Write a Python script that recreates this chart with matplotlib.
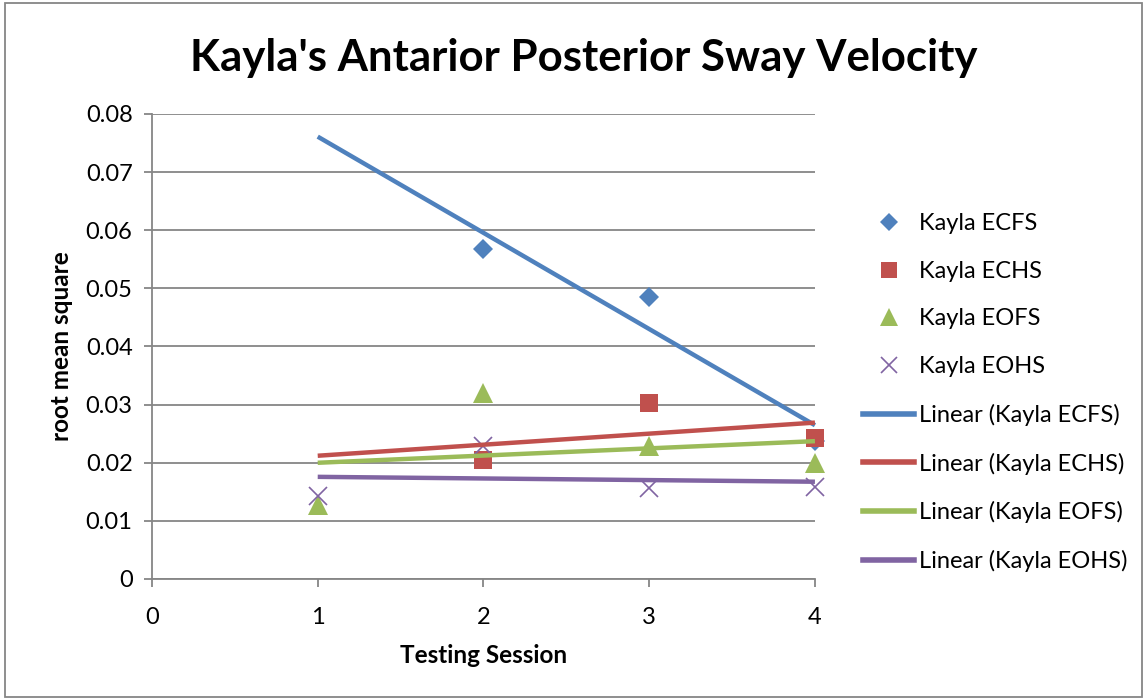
import matplotlib
matplotlib.use("Agg")
import matplotlib.pyplot as plt
import matplotlib.patheffects as pe
from matplotlib.lines import Line2D
from matplotlib.patches import Rectangle
import numpy as np

plt.rcParams['font.family'] = ['Lato', 'DejaVu Sans']

# data
series_names = ["Kayla ECFS", "Kayla ECHS", "Kayla EOFS", "Kayla EOHS"]
ecfs_x = [2, 3, 4]
ecfs_y = [0.0568, 0.0485, 0.0237]
echs_x = [2, 3, 4]
echs_y = [0.0205, 0.0302, 0.0243]
eofs_x = [1, 2, 3, 4]
eofs_y = [0.0127, 0.0320, 0.0228, 0.0199]
eohs_x = [1, 2, 3, 4]
eohs_y = [0.0143, 0.0229, 0.0156, 0.0158]
y_ticks = [0, 0.01, 0.02, 0.03, 0.04, 0.05, 0.06, 0.07, 0.08]
x_ticks = [0, 1, 2, 3, 4]

colors = ['#4F81BD', '#C0504D', '#9BBB59', '#8064A2']
markers = ['D', 's', '^', 'x']
msizes = [10, 13, 14, 13]
xs = [ecfs_x, echs_x, eofs_x, eohs_x]
ys = [ecfs_y, echs_y, eofs_y, eohs_y]

fig = plt.figure(figsize=(11.47, 7.0), dpi=100)
ax = fig.add_axes([0.1325, 0.1729, 0.578, 0.6643])

shadow = [pe.SimplePatchShadow(offset=(1.5, -2), alpha=0.25), pe.Normal()]

for name, x, y, c, m, ms in zip(series_names, xs, ys, colors, markers, msizes):
    ax.plot(x, y, linestyle='none', marker=m, color=c, markersize=ms,
            markeredgewidth=1.2 if m == 'x' else 0, clip_on=False, zorder=3)

# linear trendlines, forecast back to session 1
for x, y, c in zip(xs, ys, colors):
    k, b = np.polyfit(x, y, 1)
    tx = np.array([1, 4])
    ax.plot(tx, k * tx + b, color=c, lw=3.2, solid_capstyle='butt',
            path_effects=shadow, clip_on=False, zorder=4)

ax.set_xlim(0, 4)
ax.set_ylim(0, 0.08)
ax.set_xticks(x_ticks)
ax.set_yticks(y_ticks)
ax.set_yticklabels(['0' if v == 0 else f'{v:.2f}' for v in y_ticks])
ax.set_xticklabels([str(v) for v in x_ticks])
ax.grid(axis='y', color='#868686', lw=1.3)
ax.set_axisbelow(True)
for s in ['top', 'right']:
    ax.spines[s].set_visible(False)
for s in ['left', 'bottom']:
    ax.spines[s].set_color('#868686')
    ax.spines[s].set_linewidth(1.3)
ax.tick_params(axis='both', colors='#868686', labelcolor='black', labelsize=17,
               length=6, width=1.3, direction='out')
ax.tick_params(axis='x', pad=14)
ax.tick_params(axis='y', pad=8)

ax.set_xlabel('Testing Session', fontsize=17.5, fontweight='bold', labelpad=12)
ax.set_ylabel('root mean square', fontsize=17.5, fontweight='bold', labelpad=9)

fig.text(0.509, 0.917, "Kayla's Antarior Posterior Sway Velocity", ha='center',
         va='center', fontsize=31.5, fontweight='bold')

handles = []
for name, c, m, ms in zip(series_names, colors, markers, msizes):
    handles.append(Line2D([], [], linestyle='none', marker=m, color=c, markersize=ms * 0.9,
                          markeredgewidth=1.2 if m == 'x' else 0))
labels = list(series_names)
for name, c in zip(series_names, colors):
    handles.append(Line2D([], [], color=c, lw=4))
    labels.append(f'Linear ({name})')
fig.legend(handles, labels, loc='center left', bbox_to_anchor=(0.752, 0.439),
           frameon=False, fontsize=17, labelspacing=1.13, handlelength=2.2,
           handletextpad=0.2, borderaxespad=0, borderpad=0)

fig.add_artist(Rectangle((0.004, 0.004), 0.992, 0.992, transform=fig.transFigure,
                         fill=False, edgecolor='#868686', lw=1.3))

fig.savefig('out.png', dpi=100, facecolor='white')
